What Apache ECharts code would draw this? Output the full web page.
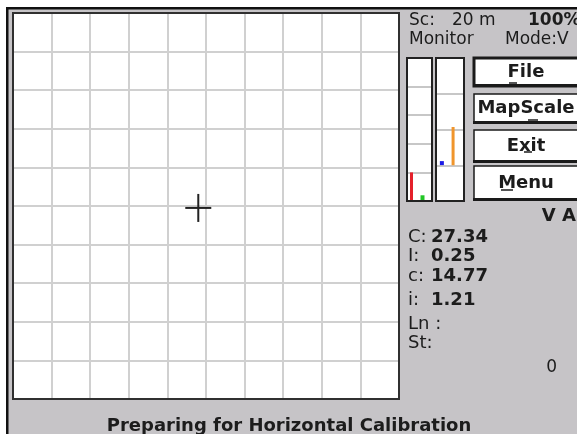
<!DOCTYPE html>
<html><head><meta charset="utf-8">
<script src="https://cdn.jsdelivr.net/npm/echarts@6/dist/echarts.min.js"></script>
<style>html,body{margin:0;padding:0;background:#fff}#c{width:577px;height:434px}</style>
</head><body><div id="c"></div>
<script>
// ---- data ----
const gridDivisions = 10;
const crossPosition = [4.8, 4.95];
const meter1Max = 5;
const meter2Max = 4;
const meter1Channels = [0.18, 0.62];
const meter1Levels = [1.0, 0.2];          // red, green
const meter2MarkerChannel = 0.21;
const meter2Marker = 1.06;                // blue
const meter2RangeChannel = 0.61;
const meter2Range = [1.0, 2.07];          // orange
const scaleLabel = 'Sc:';
const scaleValue = '20 m';
const zoomValue = '100%';
const monitorLabel = 'Monitor';
const modeLabel = 'Mode:V';
const unitsLabel = 'V A';
const readoutLabels = ['C:', 'I:', 'c:', 'i:', 'Ln :', 'St:'];
const readoutValues = ['27.34', '0.25', '14.77', '1.21', '', ''];
const counterValue = '0';
const buttonLabels = ['File', 'MapScale', 'Exit', 'Menu'];
const statusText = 'Preparing for Horizontal Calibration';

// ---- layout ----
const FF = 'DejaVu Sans';
const ink = '#1c1c1c';
const readoutY = [237, 256, 276, 300, 324, 343];
const buttonBoxes = [[58, 28], [94, 29], [130, 32], [166, 34]];
const buttonUnderline = [[509, 517, 83], [528, 538, 120], [524, 532, 152], [501, 513, 190]];

function txt(x, y, text, size, bold, align) {
  return { type: 'text', x: x, y: y, z: 50,
    style: { text: text, fill: ink, font: (bold ? 'bold ' : '') + size + 'px "' + FF + '"',
      textAlign: align || 'left', textVerticalAlign: 'middle', align: align || 'left', verticalAlign: 'middle' } };
}
function frame(x, y, w, h, c, lw) {
  return { type: 'rect', z: 48, shape: { x: x, y: y, width: w, height: h }, style: { fill: 'none', stroke: c, lineWidth: lw } };
}

const graphics = [
  { type: 'rect', z: 40, shape: { x: 0, y: 0, width: 577, height: 7 }, style: { fill: '#fff' } },
  { type: 'rect', z: 40, shape: { x: 0, y: 0, width: 6, height: 434 }, style: { fill: '#fff' } },
  { type: 'rect', z: 41, shape: { x: 6, y: 7, width: 571, height: 2.5 }, style: { fill: '#111' } },
  { type: 'rect', z: 41, shape: { x: 6, y: 7, width: 2.5, height: 427 }, style: { fill: '#111' } },
  frame(13, 13, 386, 386, '#303030', 2),
  frame(407, 58, 25, 143, '#222', 2),
  frame(436, 58, 28, 143, '#222', 2),
  txt(409, 21, scaleLabel, 17, false),
  txt(452, 21, scaleValue, 17, false),
  txt(528, 21, zoomValue, 17, true),
  txt(409, 40, monitorLabel, 17, false),
  txt(505, 40, modeLabel, 17, false),
  txt(576, 216, unitsLabel, 18, true, 'right'),
  txt(557, 368, counterValue, 17, false, 'right'),
  txt(289, 426, statusText, 18, true, 'center')
];
readoutLabels.forEach(function (l, i) {
  graphics.push(txt(408, readoutY[i], l, 18, false));
  if (readoutValues[i]) graphics.push(txt(431, readoutY[i], readoutValues[i], 18, true));
});
buttonLabels.forEach(function (l, i) {
  const b = buttonBoxes[i];
  graphics.push({ type: 'rect', z: 45, shape: { x: 474, y: b[0], width: 120, height: b[1] },
    style: { fill: '#fff', stroke: '#1a1a1a', lineWidth: i === 0 ? 3 : 1.5 } });
  graphics.push({ type: 'rect', z: 46, shape: { x: 473, y: b[0] + b[1] - 2, width: 120, height: 3 }, style: { fill: '#1a1a1a' } });
  graphics.push(txt(526, b[0] + b[1] / 2, l, 18, true, 'center'));
  const u = buttonUnderline[i];
  graphics.push({ type: 'line', z: 50, shape: { x1: u[0], y1: u[2], x2: u[1], y2: u[2] }, style: { stroke: ink, lineWidth: 1.5 } });
});

function hidden(extra) {
  return Object.assign({ axisLine: { show: false }, axisTick: { show: false }, axisLabel: { show: false } }, extra);
}

const chart = echarts.init(document.getElementById('c'), null, { renderer: 'canvas' });
chart.setOption({
  animation: false,
  backgroundColor: '#c6c4c7',
  grid: [
    { left: 13, top: 13, width: 386, height: 386, show: true, backgroundColor: '#fff', borderColor: '#2a2a2a', borderWidth: 2 },
    { left: 407, top: 58, width: 25, height: 143, show: true, backgroundColor: '#fff', borderColor: '#2a2a2a', borderWidth: 2 },
    { left: 436, top: 58, width: 28, height: 143, show: true, backgroundColor: '#fff', borderColor: '#2a2a2a', borderWidth: 2 }
  ],
  xAxis: [
    hidden({ type: 'value', gridIndex: 0, min: 0, max: gridDivisions, interval: 1, splitLine: { show: true, lineStyle: { color: '#d0d0d0', width: 2 } } }),
    hidden({ type: 'value', gridIndex: 1, min: 0, max: 1, splitLine: { show: false } }),
    hidden({ type: 'value', gridIndex: 2, min: 0, max: 1, splitLine: { show: false } })
  ],
  yAxis: [
    hidden({ type: 'value', gridIndex: 0, min: 0, max: gridDivisions, interval: 1, splitLine: { show: true, lineStyle: { color: '#d0d0d0', width: 2 } } }),
    hidden({ type: 'value', gridIndex: 1, min: 0, max: meter1Max, interval: 1, splitLine: { show: true, lineStyle: { color: '#b4b4b4', width: 1.5 } } }),
    hidden({ type: 'value', gridIndex: 2, min: 0, max: meter2Max, interval: 1, splitLine: { show: true, lineStyle: { color: '#b4b4b4', width: 1.5 } } })
  ],
  series: [
    { type: 'custom', xAxisIndex: 0, yAxisIndex: 0, data: [crossPosition],
      renderItem: function (params, api) {
        const p = api.coord([api.value(0), api.value(1)]);
        const s = { stroke: '#222', lineWidth: 2 };
        return { type: 'group', children: [
          { type: 'line', shape: { x1: p[0] - 13, y1: p[1], x2: p[0] + 13, y2: p[1] }, style: s },
          { type: 'line', shape: { x1: p[0], y1: p[1] - 14, x2: p[0], y2: p[1] + 14 }, style: s }
        ] };
      } },
    { type: 'custom', xAxisIndex: 1, yAxisIndex: 1,
      data: meter1Levels.map(function (v, i) { return [meter1Channels[i], v, i]; }),
      renderItem: function (params, api) {
        const top = api.coord([api.value(0), api.value(1)]);
        const bot = api.coord([api.value(0), 0]);
        const w = api.value(2) === 0 ? 3 : 4;
        return { type: 'rect', shape: { x: top[0] - w / 2, y: top[1], width: w, height: bot[1] - top[1] },
          style: { fill: api.value(2) === 0 ? '#e4202a' : '#22c626' } };
      } },
    { type: 'custom', xAxisIndex: 2, yAxisIndex: 2,
      data: [[meter2RangeChannel, meter2Range[0], meter2Range[1]]],
      renderItem: function (params, api) {
        const top = api.coord([api.value(0), api.value(2)]);
        const bot = api.coord([api.value(0), api.value(1)]);
        return { type: 'rect', shape: { x: top[0] - 1.5, y: top[1], width: 3, height: bot[1] - top[1] },
          style: { fill: '#f0952c' } };
      } },
    { type: 'custom', xAxisIndex: 2, yAxisIndex: 2,
      data: [[meter2MarkerChannel, meter2Marker]],
      renderItem: function (params, api) {
        const p = api.coord([api.value(0), api.value(1)]);
        return { type: 'rect', shape: { x: p[0] - 2, y: p[1] - 2, width: 4, height: 4 }, style: { fill: '#1b1be6' } };
      } }
  ],
  graphic: graphics
});
</script></body></html>
